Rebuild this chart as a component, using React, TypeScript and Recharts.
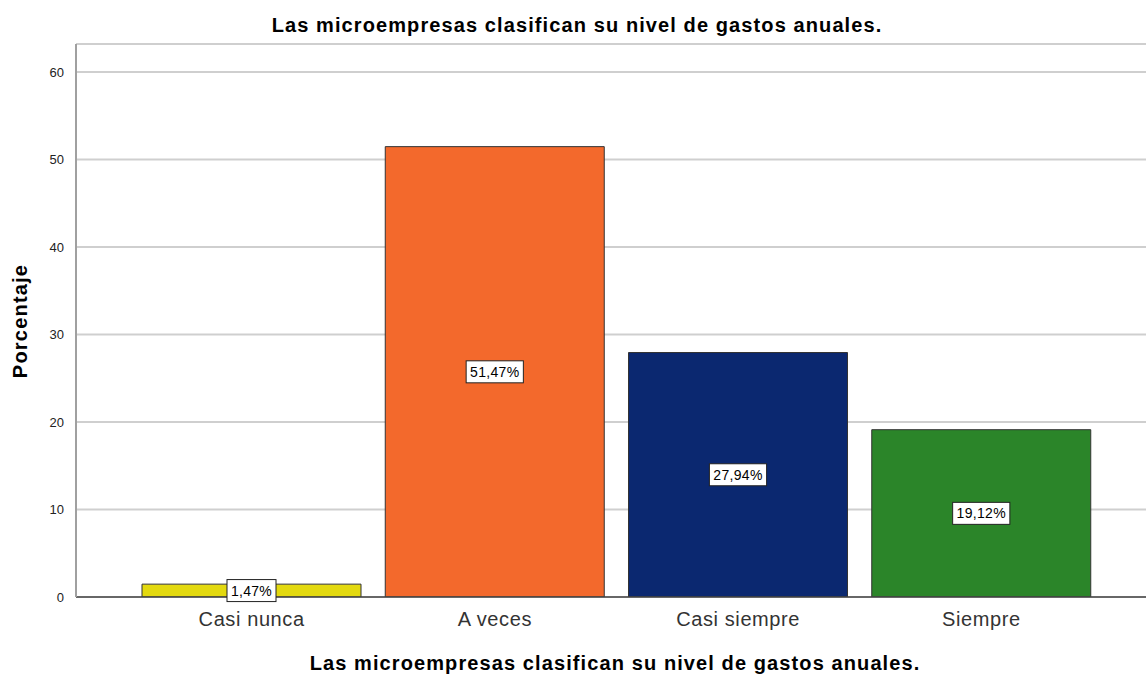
import React from "react";
import { BarChart, Bar, XAxis, YAxis, CartesianGrid, Cell, LabelList } from "recharts";

const categories = ["Casi nunca", "A veces", "Casi siempre", "Siempre"];
const percentages = [1.47, 51.47, 27.94, 19.12];
const labels = ["1,47%", "51,47%", "27,94%", "19,12%"];
const colors = ["#E3D90F", "#F3692C", "#0B2870", "#2B8529"];
const yTicks = [0, 10, 20, 30, 40, 50, 60];

const data = categories.map((c, i) => ({ name: c, value: percentages[i], label: labels[i] }));

const FONT = "'Liberation Sans', Arial, sans-serif";

const BoxLabel = (props: any) => {
  const { x, y, width, height, index } = props;
  const text = labels[index];
  const cx = x + width / 2;
  const cy = y + height / 2;
  const w = text.length * 8.2 + 8;
  const h = 22;
  return (
    <g>
      <rect x={cx - w / 2} y={cy - h / 2} width={w} height={h} fill="#fff" stroke="#222" strokeWidth={1} />
      <text x={cx} y={cy + 5} textAnchor="middle" fontSize={14} letterSpacing={0.3} fontFamily={FONT} fill="#000">
        {text}
      </text>
    </g>
  );
};

const YTitle = (props: any) => {
  return (
    <text
      x={20}
      y={321}
      transform="rotate(-90, 20, 321)"
      textAnchor="middle"
      dominantBaseline="central"
      fontSize={20}
      letterSpacing={1.2}
      fontWeight="bold"
      fontFamily={FONT}
      fill="#000"
    >
      Porcentaje
    </text>
  );
};

const XTitle = (props: any) => {
  return (
    <text x={615} y={670} textAnchor="middle" fontSize={20} letterSpacing={1.1} fontWeight="bold" fontFamily={FONT} fill="#000">
      Las microempresas clasifican su nivel de gastos anuales.
    </text>
  );
};

export default function App() {
  return (
    <div style={{ position: "absolute", left: 0, top: 0, width: 1146, height: 675, background: "#fff" }}>
      <div
        style={{
          position: "absolute",
          left: 0,
          top: 14,
          width: 1154,
          textAlign: "center",
          fontFamily: FONT,
          fontWeight: "bold",
          fontSize: 20,
          letterSpacing: 1.1,
          color: "#000",
        }}
      >
        Las microempresas clasifican su nivel de gastos anuales.
      </div>
      <BarChart
        width={1146}
        height={675}
        data={data}
        margin={{ top: 44, right: 0, left: 0, bottom: 38 }}
        barCategoryGap={12}
      >
        <CartesianGrid vertical={false} stroke="#CFCFCF" strokeWidth={2} />
        <XAxis
          dataKey="name"
          height={40}
          padding={{ left: 54, right: 43 }}
          tickLine={false}
          axisLine={{ stroke: "#444", strokeWidth: 1.5 }}
          tick={{ fontSize: 20, letterSpacing: 0.6, fontFamily: FONT, fill: "#333" }}
          tickMargin={9}
          label={<XTitle />}
        />
        <YAxis
          width={76}
          domain={[0, 63.2]}
          ticks={yTicks}
          tickLine={false}
          axisLine={{ stroke: "#A0A0A0", strokeWidth: 2 }}
          tick={{ fontSize: 13, fontFamily: FONT, fill: "#222" }}
          tickMargin={6}
          allowDataOverflow
          label={<YTitle />}
        />
        <Bar dataKey="value" isAnimationActive={false} stroke="#333" strokeWidth={1}>
          {data.map((d, i) => (
            <Cell key={d.name} fill={colors[i]} />
          ))}
          <LabelList dataKey="label" content={<BoxLabel />} />
        </Bar>
      </BarChart>
    </div>
  );
}
